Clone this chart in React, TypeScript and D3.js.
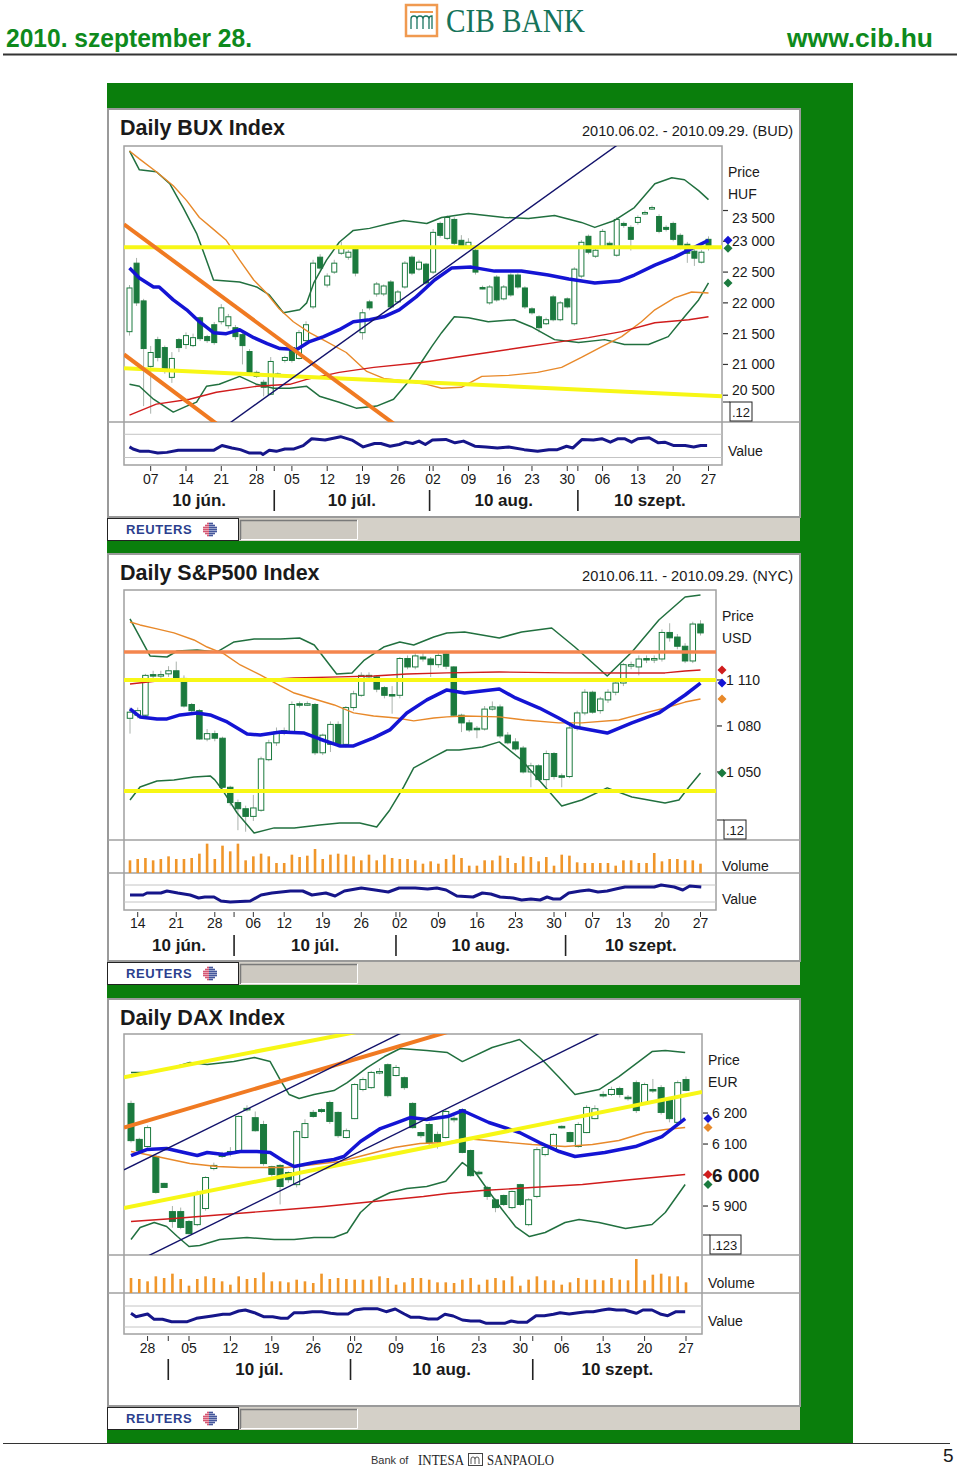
import React, { useEffect, useRef } from "react";
import * as d3 from "d3";

type Pt = [number, number];
type Candle = [number, number, number, number]; // open, high, low, close

// ---------- BUX (HUF) ----------
const buxCandles: Candle[] = [
  [21532, 22290, 21468, 22242], [22645, 22730, 21950, 22000], [22032, 22065, 20323, 21258], [20968, 21300, 20200, 21194],
  [21403, 21450, 21050, 21113], [21274, 21306, 20850, 20919], [20790, 21200, 20700, 21097], [21403, 21430, 21200, 21274],
  [21323, 21520, 21250, 21468], [21306, 21500, 21280, 21435], [21758, 21780, 21380, 21419], [21452, 21480, 21350, 21387],
  [21645, 21690, 21320, 21355], [21694, 21980, 21650, 21919], [21629, 21820, 21580, 21774], [21597, 21640, 21400, 21452],
  [21484, 21520, 21000, 21306], [21210, 21250, 20830, 20871], [20871, 20900, 20780, 20806], [20710, 20750, 20480, 20629],
  [20516, 21120, 20500, 21048], [20845, 20870, 20810, 20839], [21065, 21140, 21030, 21113], [21274, 21300, 21030, 21065],
  [21097, 21560, 21080, 21516], [21387, 21700, 21350, 21645], [21935, 22700, 21900, 22645], [22742, 22790, 22530, 22565],
  [22290, 22480, 22250, 22435], [22500, 22700, 22470, 22645], [22806, 22990, 22780, 22887], [22742, 22860, 22700, 22823],
  [22871, 22900, 22430, 22484], [21516, 21900, 21403, 21839], [22016, 22050, 21880, 21919], [22145, 22340, 22100, 22306],
  [22145, 22300, 22110, 22274], [22339, 22370, 21900, 21935], [22016, 22210, 21990, 22177], [22258, 22680, 22230, 22645],
  [22742, 22770, 22450, 22484], [22548, 22700, 22520, 22661], [22629, 22650, 22290, 22323], [22500, 23200, 22470, 23145],
  [23290, 23320, 23060, 23097], [23048, 23420, 23020, 23387], [23355, 23390, 22940, 22968], [23016, 23100, 22880, 22903],
  [22919, 23050, 22890, 22984], [22855, 22880, 22460, 22500], [22250, 22280, 22220, 22242], [22000, 22290, 21970, 22258],
  [22419, 22450, 22020, 22048], [22065, 22290, 22040, 22258], [22452, 22480, 22100, 22129], [22452, 22480, 22230, 22258],
  [22242, 22270, 21900, 21935], [21903, 21930, 21810, 21839], [21774, 21800, 21520, 21597], [21661, 21760, 21640, 21726],
  [22097, 22130, 21700, 21726], [21726, 22030, 21700, 22000], [22065, 22090, 21910, 21935], [21661, 22580, 21630, 22548],
  [22435, 23020, 22400, 22984], [23081, 23110, 22790, 22823], [22758, 22890, 22730, 22855], [22919, 23200, 22890, 23161],
  [22968, 23000, 22900, 22935], [22774, 23390, 22750, 23355], [23290, 23320, 23220, 23258], [23226, 23260, 22850, 23032],
  [23307, 23420, 23270, 23387], [23452, 23500, 23430, 23468], [23532, 23580, 23510, 23548], [23403, 23440, 23130, 23161],
  [23226, 23260, 23160, 23194], [23290, 23320, 23000, 23032], [23097, 23130, 22870, 22903], [22952, 22990, 22650, 22806],
  [22839, 22870, 22600, 22726], [22661, 22860, 22640, 22823], [23032, 23080, 22850, 22887],
];
const buxUpperBand: Pt[] = [
  [0, 24468], [1.4, 24161], [3.8, 24129], [5.7, 23936], [7.6, 23548], [9.5, 23129], [10.9, 22694], [11.9, 22371],
  [15.6, 22339], [18, 22258], [19.8, 22129], [21.8, 21839], [24.1, 21887], [25.1, 22000], [26.1, 22323], [27.9, 22694],
  [29.7, 22984], [31.7, 23177], [34, 23210], [36.8, 23290], [38.8, 23339], [42.1, 23290], [44.2, 23387], [48, 23452],
  [53.1, 23387], [56.5, 23371], [60.2, 23419], [64, 23307], [65.9, 23226], [68.7, 23339], [71.5, 23548], [74.4, 23936],
  [76.8, 24032], [78.6, 24000], [80.6, 23823], [82, 23677],
];
const buxLowerBand: Pt[] = [
  [0, 20677], [1.4, 20645], [3.4, 20435], [6.2, 20226], [8.1, 20323], [9.5, 20387], [10.9, 20645], [12.7, 20677],
  [15.6, 20806], [18, 20677], [20.4, 20613], [22.7, 20613], [25.1, 20645], [26.9, 20484], [29.7, 20387], [32.1, 20290],
  [35, 20323], [37.4, 20435], [39.2, 20677], [41.4, 21048], [42.8, 21290], [44.2, 21516], [46, 21774], [48, 21758],
  [50.8, 21694], [54.5, 21726], [56.9, 21613], [60.2, 21403], [63.6, 21355], [67.3, 21403], [70.1, 21323], [73.5, 21323],
  [76.3, 21452], [78.6, 21774], [80.6, 22048], [82, 22323],
];
const buxMaShort: Pt[] = [
  [0, 22565], [1.4, 22403], [3.4, 22258], [4.2, 22258], [6.2, 22048], [8.1, 21887], [9.9, 21694], [11.9, 21516],
  [13.7, 21500], [15.6, 21565], [17.6, 21435], [19.5, 21339], [21.3, 21258], [23.7, 21242], [25.5, 21371], [27.5, 21452],
  [29.7, 21565], [31.7, 21694], [34, 21726], [36, 21774], [38.2, 21887], [40.6, 22097], [43.2, 22371], [45.6, 22565],
  [48.4, 22581], [51.7, 22516], [55.5, 22516], [59.3, 22452], [62.2, 22387], [65.9, 22323], [69.3, 22355], [71.5, 22452],
  [74.4, 22613], [77.2, 22742], [80, 22903], [82, 23016],
];
const buxMaMid: Pt[] = [
  [0, 24468], [1.4, 24339], [3.8, 24129], [6.2, 23903], [8.1, 23661], [9.9, 23387], [11.9, 23194], [13.7, 23016],
  [15.6, 22694], [17.6, 22371], [19.4, 22161], [21.2, 21903], [23.2, 21694], [25.5, 21516], [27.9, 21371], [30.7, 21194],
  [33.6, 20887], [36, 20774], [39.2, 20726], [42.1, 20677], [44.2, 20613], [47, 20629], [49.9, 20806], [53.7, 20823],
  [57.8, 20871], [61.2, 20952], [64, 21113], [66.9, 21290], [69.7, 21452], [72.5, 21694], [74.4, 21887], [77.2, 22081],
  [79.6, 22177], [82, 22161],
];
const buxMaLong: Pt[] = [
  [0, 20177], [3.8, 20355], [8.5, 20435], [12.3, 20548], [18, 20645], [22.7, 20677], [25.1, 20758], [29.7, 20871],
  [34.6, 20952], [41.4, 21032], [46, 21113], [50.8, 21194], [55.5, 21274], [60.2, 21355], [65, 21435], [69.7, 21532],
  [74.4, 21677], [79.2, 21726], [82, 21774],
];
const buxValue: Pt[] = [
  [0, 53], [0.5, 47], [1.5, 40], [2.8, 40], [4, 35], [5.3, 37], [6.9, 43], [8.8, 43], [10.3, 43], [11.9, 43], [13.1, 57],
  [14.5, 50], [15.7, 45], [17, 35], [18.6, 35], [18.9, 31], [19.8, 43], [20.8, 40], [22, 47], [23.3, 47], [24.6, 57],
  [25.8, 77], [27.7, 73], [29.9, 83], [31.5, 73], [33.1, 53], [34.7, 63], [35.6, 63], [36.9, 55], [38.2, 60], [39.1, 67],
  [40.1, 63], [41, 70], [41.9, 60], [42.9, 73], [44.8, 75], [46.1, 65], [47.3, 70], [48.9, 55], [50.5, 53], [52.1, 50],
  [53.7, 53], [55.9, 45], [57.8, 40], [59.4, 45], [60.6, 45], [61.9, 55], [62.8, 50], [64.1, 75], [65.7, 73], [66.9, 77],
  [68.1, 67], [69.2, 77], [70.1, 77], [71.1, 67], [72, 77], [73.6, 80], [74.9, 65], [75.8, 67], [77.1, 57], [78.7, 57],
  [79.9, 53], [80.9, 57], [81.8, 57],
];
const buxTicks = [20500, 21000, 21500, 22000, 22500, 23000, 23500];
const buxLevel = 22903;
const buxTrendYellow: Pt[] = [[0, 20932], [82, 20495]];
const buxTrendOrangeA: Pt[] = [[0, 23210], [37, 20074]];
const buxTrendOrangeB: Pt[] = [[0, 21096], [12, 20065]];
const buxTrendNavy: Pt[] = [[14.4, 20065], [68.7, 24532]];

// ---------- S&P500 (USD) ----------
const spxCandles: Candle[] = [
  [1085, 1092, 1075, 1089], [1087, 1092, 1085, 1090], [1087, 1114, 1086, 1113], [1113.5, 1116, 1110, 1113],
  [1113, 1116, 1111, 1113.5], [1114, 1119, 1112, 1116], [1116, 1122, 1110, 1111], [1111, 1113, 1092, 1093],
  [1094, 1095, 1088, 1090], [1090, 1091, 1071, 1071.5], [1071.5, 1078, 1070, 1075], [1075, 1077, 1070, 1072],
  [1072, 1073, 1039, 1040], [1040, 1041, 1028, 1030], [1030, 1032, 1012, 1026], [1026, 1028, 1011, 1021],
  [1021, 1035, 1018, 1026.5], [1025, 1060, 1024, 1058.5], [1058, 1071, 1057, 1069], [1069, 1079, 1067, 1076],
  [1077, 1079, 1074, 1075.5], [1076, 1096, 1075, 1094], [1094.5, 1096, 1092, 1094], [1094, 1096, 1093, 1094.5],
  [1094, 1095, 1061, 1062.5], [1062.5, 1075, 1061, 1074], [1068, 1083, 1063, 1081], [1081, 1083, 1066, 1068],
  [1068, 1093, 1066, 1092], [1092, 1103, 1090, 1101], [1100, 1115, 1099, 1113], [1112.5, 1115, 1110, 1113],
  [1112, 1113, 1102, 1104], [1105, 1106, 1098, 1100], [1100.5, 1106, 1088, 1100], [1100, 1125, 1098, 1124],
  [1124, 1126, 1117, 1118.5], [1118.5, 1128, 1117, 1125.7], [1125, 1128, 1122, 1123.7], [1123.7, 1125, 1112, 1120],
  [1120, 1129, 1118, 1126], [1127, 1128, 1117, 1119], [1118.5, 1119, 1086, 1087], [1087, 1088, 1076, 1082],
  [1082, 1084, 1076, 1077.4], [1078.5, 1080, 1072, 1078], [1078, 1093, 1077, 1091], [1091, 1096, 1090, 1092.4],
  [1092.4, 1094, 1072, 1073.5], [1074, 1076, 1068, 1069], [1069.6, 1072, 1064, 1065], [1065.6, 1067, 1049, 1050],
  [1050, 1056, 1040, 1054], [1054, 1055, 1044, 1045], [1045, 1064, 1040, 1062], [1062, 1063, 1045, 1047],
  [1047.5, 1049, 1040, 1047], [1047, 1080, 1046, 1078.7], [1078.7, 1090, 1077, 1088.5], [1088.5, 1104, 1087, 1102],
  [1102, 1103, 1088, 1089], [1090, 1099, 1088, 1097.6], [1097, 1104, 1095, 1102], [1102, 1110, 1100, 1108],
  [1108, 1121, 1106, 1120], [1119.5, 1122, 1117, 1120], [1118.5, 1126, 1113, 1123.7], [1124, 1126, 1121, 1123.5],
  [1123.5, 1126, 1121, 1124], [1123.7, 1143, 1122, 1141], [1141, 1147, 1135, 1137.5], [1138, 1140, 1130, 1132],
  [1132, 1134, 1121, 1122.4], [1122.4, 1148, 1121, 1146.5], [1146.5, 1149, 1139, 1140.7],
];
const spxUpperBand: Pt[] = [
  [0, 1149.8], [2.6, 1125.7], [4.8, 1125], [6.1, 1128.9], [8.7, 1129.6], [11.3, 1128.3], [13.5, 1134.8], [16.1, 1136.7],
  [19.5, 1136.7], [22, 1137.4], [23.9, 1132.8], [26.8, 1113.9], [28.8, 1114.6], [30.4, 1123], [32.9, 1131.5], [35, 1134.8],
  [36.8, 1132.8], [39.4, 1138], [41.1, 1140.7], [43.4, 1141.3], [47.9, 1137.4], [50.8, 1141.3], [54.7, 1143.9],
  [57.7, 1131.5], [61.9, 1112.6], [65.1, 1128.3], [68.6, 1149.1], [72, 1164.1], [74, 1165.4],
];
const spxLowerBand: Pt[] = [
  [0, 1031.7], [1.3, 1040.2], [3.5, 1044.1], [5.7, 1044.8], [8.3, 1046.7], [10.4, 1047.4], [11, 1044.8], [12, 1038.2],
  [13.9, 1023.2], [16.1, 1010.2], [18.7, 1013.5], [21.3, 1013.5], [24.6, 1015.4], [27.2, 1016.7], [29.8, 1016.7],
  [32, 1014.1], [33.7, 1025.2], [35.5, 1040.2], [36.8, 1052.6], [39.4, 1059.8], [41.1, 1064.3], [42.7, 1064.3],
  [45.7, 1066.3], [47.9, 1069.6], [50.8, 1057.8], [53.4, 1042.8], [56, 1027.8], [58.6, 1031.7], [61.9, 1039.6],
  [65.1, 1033.7], [69.4, 1029.8], [71.2, 1031.7], [72.5, 1040.2], [74, 1049.3],
];
const spxMaShort: Pt[] = [
  [0, 1091.1], [1.3, 1085.9], [3.5, 1084.6], [4.8, 1084.6], [6.5, 1087.2], [8.7, 1088.5], [10.4, 1087.2], [12.6, 1082.6],
  [15.2, 1074.8], [16.9, 1074.1], [19.5, 1076.1], [22.6, 1075.4], [24.6, 1071.5], [27.2, 1067], [29, 1067], [31.6, 1072.2],
  [33.7, 1077.4], [35.9, 1088.5], [38.5, 1097], [41.1, 1103.5], [43.4, 1101.5], [47.9, 1104.1], [50, 1098.3],
  [53.1, 1091.7], [55.6, 1085.2], [57.7, 1079.3], [61.9, 1075.4], [65.1, 1082], [68.6, 1088.5], [72, 1100.2], [74, 1108],
];
const spxMaMid: Pt[] = [
  [0, 1147.8], [1.3, 1145.9], [3.5, 1143.3], [5.7, 1140.7], [8.3, 1136.1], [10, 1131.5], [12.2, 1127], [14.3, 1119.8],
  [16.9, 1113.3], [19.5, 1106.1], [21.3, 1101.5], [23.9, 1097.6], [26.5, 1093.7], [29, 1088.5], [31.6, 1086.5],
  [34.6, 1085.2], [36.8, 1083.3], [39.4, 1085.2], [41.1, 1085.9], [43.4, 1086.5], [47.9, 1085.9], [51.2, 1083.9],
  [55.6, 1082], [58.6, 1082], [63.4, 1083.9], [66.8, 1088.5], [69.4, 1091.7], [72, 1095.6], [74, 1097.6],
];
const spxMaLong: Pt[] = [
  [0, 1107.4], [3.5, 1109.3], [7, 1110.7], [10.9, 1110.7], [16.5, 1110], [21.3, 1111.3], [27.2, 1112], [31.6, 1112.6],
  [35.9, 1113.9], [41.1, 1114.6], [47.9, 1115.2], [56.4, 1114.6], [65.1, 1114.6], [69.4, 1114.6], [72, 1115.9], [74, 1116.5],
];
const spxVolume = [
  3.8, 4.2, 4.5, 3.8, 4.2, 5.0, 4.2, 4.2, 4.5, 5.8, 8.8, 4.2, 8.2, 6.5, 8.8, 3.8, 5.0, 5.8, 5.0, 3.0,
  3.0, 5.5, 4.8, 5.2, 7.2, 4.2, 5.5, 5.8, 5.5, 5.0, 3.8, 5.5, 3.8, 5.5, 4.5, 4.2, 4.2, 3.8, 2.8, 3.5,
  2.8, 4.2, 5.5, 4.5, 2.2, 2.2, 3.8, 3.8, 5.2, 4.5, 3.0, 5.0, 4.8, 3.5, 4.8, 2.2, 5.5, 5.2, 3.2, 3.0,
  3.0, 3.0, 3.0, 2.2, 3.8, 3.8, 3.0, 3.0, 6.0, 3.5, 4.2, 4.2, 3.8, 3.8, 2.8,
];
const spxValue: Pt[] = [
  [0, 17], [1.7, 17], [2.2, 19], [4, 19], [4.8, 21], [6.2, 19], [7.8, 17], [8.9, 14], [9.7, 15], [10.9, 15], [11.8, 11],
  [13, 10], [15.6, 11], [17, 17], [18.4, 19], [20.8, 21], [22.4, 21], [23.6, 17], [25.4, 19], [26.6, 16], [27.8, 21],
  [30, 24], [31.8, 22], [33.5, 20], [34.9, 24], [37, 24], [38.6, 23], [39.8, 24], [41, 22], [42.4, 16], [44.5, 15],
  [45.7, 19], [46.8, 18], [48, 15], [49.7, 14], [50.8, 12], [52, 13], [53.2, 12], [54.1, 15], [54.9, 13], [55.8, 13],
  [56.9, 19], [58.4, 21], [59.5, 22], [60.7, 20], [61.9, 21], [63, 23], [64.2, 25], [65.4, 25], [66.5, 25], [68, 25],
  [68.9, 27], [70.6, 25], [71.7, 22], [72.6, 26], [74.1, 25],
];
const spxTicks = [1050, 1080, 1110];
const spxLevelOrange = 1128.3;
const spxLevelsYellow = [1110, 1037.6];

// ---------- DAX (EUR) ----------
const daxCandles: Candle[] = [
  [6231, 6240, 6105, 6111], [6115, 6120, 6075, 6079], [6092, 6160, 6088, 6153], [6060, 6065, 5940, 5944],
  [5973, 5975, 5958, 5960], [5882, 5900, 5830, 5850], [5882, 5895, 5825, 5831], [5850, 5855, 5808, 5811],
  [5840, 5950, 5835, 5940], [5892, 5996, 5885, 5992], [6021, 6040, 6015, 6031], [6069, 6075, 6055, 6060],
  [6076, 6090, 6060, 6075], [6079, 6192, 6076, 6189], [6214, 6225, 6205, 6215], [6185, 6205, 6140, 6143],
  [6163, 6175, 6030, 6037], [6027, 6030, 5995, 6002], [6031, 6035, 5905, 5963], [6008, 6012, 5975, 5985],
  [5969, 6145, 5960, 6140], [6121, 6180, 6118, 6166], [6202, 6210, 6185, 6189], [6211, 6215, 6200, 6205],
  [6234, 6240, 6165, 6173], [6202, 6205, 6120, 6127], [6121, 6150, 6118, 6143], [6182, 6296, 6180, 6292],
  [6276, 6315, 6270, 6308], [6282, 6336, 6278, 6331], [6333, 6345, 6325, 6334], [6356, 6360, 6250, 6256],
  [6321, 6355, 6318, 6347], [6314, 6318, 6275, 6282], [6231, 6235, 6150, 6153], [6137, 6140, 6120, 6127],
  [6163, 6170, 6095, 6105], [6131, 6140, 6085, 6108], [6121, 6210, 6118, 6205], [6183, 6190, 6170, 6182],
  [6211, 6215, 6070, 6073], [6079, 6082, 5995, 5998], [6009, 6015, 6000, 6008], [5960, 5965, 5920, 5931],
  [5920, 5925, 5880, 5895], [5934, 5937, 5900, 5905], [5895, 5950, 5890, 5947], [5969, 5972, 5900, 5905],
  [5840, 5925, 5835, 5920], [5931, 6090, 5925, 6082], [6066, 6100, 6060, 6089], [6085, 6135, 6082, 6131],
  [6157, 6160, 6150, 6156], [6137, 6140, 6105, 6108], [6092, 6170, 6088, 6163], [6137, 6225, 6135, 6218],
  [6182, 6225, 6180, 6214], [6260, 6270, 6250, 6259], [6260, 6285, 6255, 6276], [6279, 6285, 6250, 6260],
  [6251, 6258, 6240, 6250], [6298, 6305, 6200, 6208], [6234, 6298, 6230, 6292], [6276, 6310, 6265, 6275],
  [6282, 6290, 6195, 6202], [6243, 6250, 6170, 6182], [6170, 6305, 6165, 6298], [6308, 6318, 6270, 6273],
];
const daxUpperBand: Pt[] = [
  [0, 6330.6], [1.9, 6330.6], [4.3, 6340.3], [7.1, 6362.9], [9.2, 6356.5], [12.4, 6366.1], [14.9, 6379], [16.8, 6366.1],
  [18, 6308.1], [19.1, 6259.7], [20.3, 6246.8], [22.1, 6259.7], [24.5, 6272.6], [26.1, 6298.4], [28.5, 6346.8],
  [30.6, 6382.3], [32.5, 6408.1], [35.7, 6401.6], [38.2, 6395.2], [40, 6366.1], [43.6, 6411.3], [46.9, 6437.1],
  [49.6, 6372.6], [51.7, 6314.5], [53.6, 6259.7], [56.5, 6275.8], [58.9, 6317.7], [62.9, 6398.4], [64.5, 6401.6],
  [66.9, 6395.2],
];
const daxLowerBand: Pt[] = [
  [0, 5791.9], [1.1, 5830.6], [2.8, 5846.8], [4.3, 5833.9], [5.6, 5801.6], [7, 5769.4], [8.3, 5772.6], [10.7, 5791.9],
  [14, 5798.4], [17.3, 5791.9], [19.7, 5791.9], [22.1, 5798.4], [24.5, 5798.4], [26.1, 5814.5], [27.7, 5879],
  [29.3, 5917.7], [31.3, 5943.5], [33.3, 5956.5], [35.7, 5962.9], [38, 5980], [40, 6040.3], [41.5, 6011.3],
  [43.2, 5946.8], [44.8, 5888.7], [46.4, 5833.9], [48.1, 5801.6], [50, 5814.5], [52.4, 5846.8], [54.1, 5856.5],
  [56.5, 5846.8], [59.7, 5827.4], [62.9, 5840.3], [64.5, 5879], [66.9, 5969.4],
];
const daxMaShort: Pt[] = [
  [0, 6062.9], [1.9, 6082.3], [4.3, 6085.5], [6.4, 6072.6], [8, 6062.9], [9.2, 6072.6], [11.2, 6066.1], [13.2, 6075.8],
  [15.2, 6075.8], [16.8, 6072.6], [18.5, 6043.5], [19.7, 6027.4], [22.1, 6040.3], [24.5, 6050], [25.7, 6059.7],
  [27.7, 6108.1], [30.1, 6150], [32.1, 6169.4], [33.7, 6185.5], [35.7, 6179], [38.2, 6188.7], [40, 6208.1],
  [43.2, 6169.4], [46.9, 6137.1], [49.3, 6104.8], [51.7, 6075.8], [53.6, 6059.7], [57.2, 6072.6], [60.9, 6091.9],
  [64.1, 6124.2], [66.9, 6182.3],
];
const daxMaMid: Pt[] = [
  [0, 6075.8], [3.1, 6059.7], [7.1, 6037.1], [10.4, 6027.4], [13.2, 6024.2], [16.1, 6024.2], [18.8, 6024.2],
  [22.1, 6033.9], [25.2, 6043.5], [28.5, 6066.1], [31.8, 6088.7], [34.9, 6101.6], [38.2, 6104.8], [40.3, 6117.7],
  [44.4, 6108.1], [48.4, 6098.4], [52.4, 6091.9], [55.7, 6098.4], [58.9, 6111.3], [62.1, 6137.1], [64.5, 6146.8],
  [66.9, 6153.2],
];
const daxMaLong: Pt[] = [
  [0, 5850], [5.2, 5859.7], [11.2, 5872.6], [17.3, 5885.5], [23.3, 5898.4], [29.3, 5914.5], [35.3, 5930.6],
  [38.2, 5940.3], [42.4, 5950], [48.4, 5959.7], [54.5, 5969.4], [60.5, 5985.5], [66.9, 6001.6],
];
const daxVolume = [
  4.5, 4.2, 3.5, 5.0, 4.5, 5.8, 4.2, 2.2, 4.2, 5.0, 4.5, 3.5, 2.5, 5.0, 4.2, 4.5, 6.2, 3.5, 3.5, 3.2,
  4.0, 3.5, 3.0, 5.8, 4.2, 4.5, 4.2, 4.0, 4.0, 4.0, 5.0, 4.5, 2.5, 3.2, 4.5, 4.5, 4.0, 3.2, 3.2, 3.0,
  4.0, 4.5, 2.5, 4.0, 4.5, 3.8, 5.0, 2.2, 4.0, 5.0, 3.8, 3.8, 2.5, 3.2, 4.5, 4.0, 4.0, 3.8, 4.5, 4.0,
  3.8, 10.2, 3.8, 5.5, 5.8, 5.0, 5.0, 3.2,
];
const daxValue: Pt[] = [
  [0, 20.7], [0.6, 17.3], [2, 20], [2.8, 14.7], [3.8, 14.7], [4.9, 12.3], [6.8, 12.3], [7.9, 15.7], [9.8, 18],
  [11.1, 19.7], [11.9, 19.7], [13, 23], [13.8, 24], [14.9, 21.3], [16, 17.3], [17.1, 17.3], [18.1, 15.7], [18.9, 15.7],
  [19.7, 21.3], [20.8, 21.3], [21.9, 22.3], [23, 22.3], [24.1, 20.7], [24.9, 20], [26.2, 20], [27, 24], [28.1, 25.3],
  [29.7, 25.3], [30.8, 22.3], [31.9, 25], [33, 20], [33.8, 16.7], [34.8, 16.7], [35.9, 15], [37, 15], [37.9, 19.7],
  [38.9, 18], [40, 14], [41, 13], [42.1, 13], [42.9, 10.7], [44, 10.7], [45.1, 10.7], [45.9, 13], [46.7, 11.7],
  [47.8, 11.7], [48.9, 18.3], [49.9, 18.3], [51, 19.7], [51.8, 21.3], [52.9, 20], [54, 21.3], [55, 22.3], [55.8, 22.3],
  [56.9, 24], [57.7, 25], [58.6, 24], [59.6, 24], [61, 20.7], [61.8, 24], [62.9, 24], [64, 19.7], [64.8, 18.3],
  [65.8, 22.3], [66.9, 22.3],
];
const daxTicks = [5900, 6000, 6100, 6200];
const daxTrendYellowTop: Pt[] = [[0, 6320], [25, 6450]];
const daxTrendYellowLow: Pt[] = [[0, 5898], [69, 6268]];
const daxTrendOrange: Pt[] = [[0, 6160], [37, 6452]];
const daxTrendNavyUpper: Pt[] = [[0, 6028], [32, 6450]];
const daxTrendNavyLower: Pt[] = [[2.9, 5750], [56, 6450]];

// ---------- styles ----------
const FONT = "'Liberation Sans', Arial, Helvetica, sans-serif";
const GREEN_BG = "#0a7e0c";
const HEAD_GREEN = "#0e8a1c";
const CANDLE = "#1b7a3e";
const WICK = "#aab2ac";
const BAND = "#21703f";
const BLUE = "#1414d4";
const ORANGE = "#e8892a";
const RED = "#d01c1c";
const YELLOW = "#f7f716";
const TREND_ORANGE = "#f07a22";
const SALMON = "#f4864e";
const NAVY = "#12126b";
const VALUE_NAVY = "#16168a";
const VOL = "#f0962a";
const FRAME = "#a0a0a0";
const TEXT = "#1a1a1a";

const HU_MONTHS = ["jan.", "febr.", "márc.", "ápr.", "máj.", "jún.", "júl.", "aug.", "szept.", "okt.", "nov.", "dec."];
const parseDay = d3.timeParse("%Y-%m-%d");
const isoDay = d3.timeFormat("%Y-%m-%d");
const dayLabel = d3.timeFormat("%d");
const yearLabel = d3.timeFormat("%y");
const priceFmt = d3.formatLocale({ decimal: ",", thousands: " ", grouping: [3], currency: ["", ""] }).format(",d");
const last = (a: any[]) => a[a.length - 1];

function tradingDays(start: string, count: number, holidays: string[]) {
  const out: Date[] = [];
  let d = parseDay(start) as Date;
  while (out.length < count) {
    const wd = d.getDay();
    if (wd > 0 && wd < 6 && !holidays.includes(isoDay(d))) out.push(d);
    d = d3.timeDay.offset(d, 1);
  }
  return out;
}

const panels = [
  {
    key: "bux", title: "Daily BUX Index", range: "2010.06.02. - 2010.09.29. (BUD)", currency: "HUF",
    start: "2010-06-02", holidays: ["2010-08-20"],
    candles: buxCandles, upper: buxUpperBand, lower: buxLowerBand,
    maShort: buxMaShort, maMid: buxMaMid, maLong: buxMaLong, value: buxValue, volume: null,
    levels: [[buxLevel, YELLOW, 4]],
    trends: [[buxTrendYellow, YELLOW, 4], [buxTrendOrangeA, TREND_ORANGE, 4], [buxTrendOrangeB, TREND_ORANGE, 4], [buxTrendNavy, NAVY, 1.4]],
    ticks: buxTicks, boldTick: null, tickShift: { 23500: 7, 20500: -5 },
    markers: [[BLUE, last(buxMaShort)[1]], [CANDLE, last(buxCandles)[3]], [CANDLE, last(buxLowerBand)[1]]],
    box: ".12", boxW: 22,
    top: 109, bottom: 517, plotLeft: 124, plotRight: 722, priceTop: 146, priceBottom: 422,
    volBottom: null, valueBottom: 465, firstX: 129.5, lastX: 708.5, bodyW: 5,
    priceDomain: [20065, 24548], volumeDomain: null, valueDomain: [0, 126], valueGrid: [22, 90],
    tickY: 466, labelY: 484, monthY: 506,
  },
  {
    key: "spx", title: "Daily S&P500 Index", range: "2010.06.11. - 2010.09.29. (NYC)", currency: "USD",
    start: "2010-06-11", holidays: ["2010-07-05", "2010-09-06"],
    candles: spxCandles, upper: spxUpperBand, lower: spxLowerBand,
    maShort: spxMaShort, maMid: spxMaMid, maLong: spxMaLong, value: spxValue, volume: spxVolume,
    levels: [[spxLevelOrange, SALMON, 3.5], [spxLevelsYellow[0], YELLOW, 4], [spxLevelsYellow[1], YELLOW, 4]],
    trends: [],
    ticks: spxTicks, boldTick: null, tickShift: {},
    markers: [[RED, last(spxMaLong)[1]], [BLUE, last(spxMaShort)[1]], [ORANGE, last(spxMaMid)[1]], [CANDLE, last(spxLowerBand)[1]]],
    box: ".12", boxW: 22,
    top: 554, bottom: 961, plotLeft: 124, plotRight: 716, priceTop: 590, priceBottom: 840,
    volBottom: 873, valueBottom: 910, firstX: 130, lastX: 700.5, bodyW: 5.5,
    priceDomain: [1005.6, 1168.7], volumeDomain: [0, 9.9], valueDomain: [2, 39], valueGrid: [10, 27],
    tickY: 912, labelY: 928, monthY: 951,
  },
  {
    key: "dax", title: "Daily DAX Index", range: null, currency: "EUR",
    start: "2010-06-24", holidays: [],
    candles: daxCandles, upper: daxUpperBand, lower: daxLowerBand,
    maShort: daxMaShort, maMid: daxMaMid, maLong: daxMaLong, value: daxValue, volume: daxVolume,
    levels: [],
    trends: [[daxTrendYellowTop, YELLOW, 4], [daxTrendYellowLow, YELLOW, 4], [daxTrendOrange, TREND_ORANGE, 4],
      [daxTrendNavyUpper, NAVY, 1.4], [daxTrendNavyLower, NAVY, 1.4]],
    ticks: daxTicks, boldTick: 6000, tickShift: {},
    markers: [[BLUE, last(daxMaShort)[1]], [ORANGE, last(daxMaMid)[1]], [RED, last(daxMaLong)[1]], [CANDLE, last(daxLowerBand)[1]]],
    box: ".123", boxW: 31,
    top: 999, bottom: 1406, plotLeft: 124, plotRight: 702, priceTop: 1034, priceBottom: 1255,
    volBottom: 1293, valueBottom: 1334, firstX: 131, lastX: 686, bodyW: 6,
    priceDomain: [5742, 6455], volumeDomain: [0, 11.4], valueDomain: [0, 41], valueGrid: [7, 28],
    tickY: 1336, labelY: 1353, monthY: 1375,
  },
];

function drawPage(svg: any) {
  // header
  svg.append("text").attr("x", 6).attr("y", 47).attr("font-size", 26).attr("font-weight", "bold")
    .attr("fill", HEAD_GREEN).attr("textLength", 246).attr("lengthAdjust", "spacingAndGlyphs").text("2010. szeptember 28.");
  svg.append("text").attr("x", 787).attr("y", 47).attr("font-size", 26).attr("font-weight", "bold")
    .attr("fill", HEAD_GREEN).attr("textLength", 146).attr("lengthAdjust", "spacingAndGlyphs").text("www.cib.hu");

  // CIB logo
  const logo = svg.append("g");
  logo.append("rect").attr("x", 406).attr("y", 5).attr("width", 31).attr("height", 31)
    .attr("fill", "#fff").attr("stroke", "#f09a50").attr("stroke-width", 2.5);
  logo.append("line").attr("x1", 410).attr("x2", 433).attr("y1", 12).attr("y2", 12).attr("stroke", "#f09a50").attr("stroke-width", 2);
  logo.append("path").attr("d", "M411,29 V19 Q411,16 414,16 Q417,16 417,19 V29 M417,19 Q417,16 420,16 Q423,16 423,19 V29 M423,19 Q423,16 426,16 Q429,16 429,19 V29 M429,19 Q429,16 432,16 V29")
    .attr("fill", "none").attr("stroke", "#1b7560").attr("stroke-width", 1.3);
  svg.append("text").attr("x", 446).attr("y", 32).attr("font-family", "'Liberation Serif', 'Times New Roman', serif")
    .attr("font-size", 33).attr("fill", "#16735a").attr("textLength", 139).attr("lengthAdjust", "spacingAndGlyphs").text("CIB BANK");

  svg.append("line").attr("x1", 3).attr("x2", 957).attr("y1", 54.5).attr("y2", 54.5).attr("stroke", "#333").attr("stroke-width", 2);
  svg.append("line").attr("x1", 3).attr("x2", 950).attr("y1", 1443.5).attr("y2", 1443.5).attr("stroke", "#333").attr("stroke-width", 1.2);

  // green background
  svg.append("rect").attr("x", 107).attr("y", 83).attr("width", 746).attr("height", 1360).attr("fill", GREEN_BG);

  // footer
  svg.append("text").attr("x", 943).attr("y", 1462).attr("font-size", 19).attr("fill", TEXT).text("5");
  svg.append("text").attr("x", 371).attr("y", 1464).attr("font-size", 11).attr("fill", "#333").text("Bank of");
  svg.append("text").attr("x", 418).attr("y", 1465).attr("font-family", "'Liberation Serif', serif").attr("font-size", 15)
    .attr("fill", "#222").attr("textLength", 46).attr("lengthAdjust", "spacingAndGlyphs").text("INTESA");
  svg.append("rect").attr("x", 468.5).attr("y", 1453.5).attr("width", 14).attr("height", 12).attr("fill", "none").attr("stroke", "#444");
  svg.append("path").attr("d", "M471,1464 V1459 Q471,1457 473,1457 Q475,1457 475,1459 V1464 M475,1459 Q475,1457 477,1457 Q479,1457 479,1459 V1464")
    .attr("fill", "none").attr("stroke", "#444").attr("stroke-width", 0.9);
  svg.append("text").attr("x", 487).attr("y", 1465).attr("font-family", "'Liberation Serif', serif").attr("font-size", 15)
    .attr("fill", "#222").attr("textLength", 67).attr("lengthAdjust", "spacingAndGlyphs").text("SANPAOLO");
}

function drawPanel(svg: any, p: any) {
  const n = p.candles.length;
  const days = tradingDays(p.start, n, p.holidays);
  const g = svg.append("g");

  // Scales
  const x = d3.scaleLinear().domain([0, n - 1]).range([p.firstX, p.lastX]);
  const y = d3.scaleLinear().domain(p.priceDomain).range([p.priceBottom, p.priceTop]);
  const valTop = p.volBottom ?? p.priceBottom;
  const yVal = d3.scaleLinear().domain(p.valueDomain).range([p.valueBottom, valTop]);
  const ax = p.plotRight;

  // Panel
  g.append("rect").attr("x", 108).attr("y", p.top).attr("width", 692).attr("height", p.bottom - p.top)
    .attr("fill", "#fff").attr("stroke", "#9a9a9a").attr("stroke-width", 2);

  // Title
  g.append("text").attr("x", 120).attr("y", p.top + 26).attr("font-size", 21.5).attr("font-weight", "bold")
    .attr("fill", TEXT).text(p.title);
  if (p.range) {
    g.append("text").attr("x", 582).attr("y", p.top + 27).attr("font-size", 14)
      .attr("textLength", 211).attr("lengthAdjust", "spacingAndGlyphs").attr("fill", TEXT).text(p.range);
  }

  // Frames
  g.append("rect").attr("x", p.plotLeft).attr("y", p.priceTop).attr("width", p.plotRight - p.plotLeft)
    .attr("height", p.valueBottom - p.priceTop).attr("fill", "none").attr("stroke", FRAME).attr("stroke-width", 1.5);
  [p.priceBottom, p.volBottom].filter((v: any) => v != null).forEach((yy: number) => {
    g.append("line").attr("x1", 108).attr("x2", 800).attr("y1", yy).attr("y2", yy).attr("stroke", FRAME).attr("stroke-width", 1.5);
  });

  // Clip for the price area
  const clipId = `clip-${p.key}`;
  g.append("clipPath").attr("id", clipId).append("rect").attr("x", p.plotLeft).attr("y", p.priceTop)
    .attr("width", p.plotRight - p.plotLeft).attr("height", p.priceBottom - p.priceTop);
  const plot = g.append("g").attr("clip-path", `url(#${clipId})`);

  // Candles
  const candle = plot.selectAll("g.candle").data(p.candles).join("g").attr("class", "candle");
  candle.append("line")
    .attr("x1", (d: Candle, i: number) => x(i)).attr("x2", (d: Candle, i: number) => x(i))
    .attr("y1", (d: Candle) => y(d[1])).attr("y2", (d: Candle) => y(d[2]))
    .attr("stroke", WICK).attr("stroke-width", 1);
  candle.append("rect")
    .attr("x", (d: Candle, i: number) => x(i) - p.bodyW / 2)
    .attr("y", (d: Candle) => y(Math.max(d[0], d[3])))
    .attr("width", p.bodyW)
    .attr("height", (d: Candle) => Math.max(1.5, Math.abs(y(d[0]) - y(d[3]))))
    .attr("fill", (d: Candle) => (d[3] >= d[0] ? "#fff" : CANDLE))
    .attr("stroke", CANDLE).attr("stroke-width", 1);

  // Indicator lines
  const line = d3.line<Pt>().x(d => x(d[0])).y(d => y(d[1]));
  const drawLine = (data: Pt[], color: string, width: number) =>
    plot.append("path").datum(data).attr("d", line).attr("fill", "none").attr("stroke", color)
      .attr("stroke-width", width).attr("stroke-linejoin", "round");
  drawLine(p.upper, BAND, 1.5);
  drawLine(p.lower, BAND, 1.5);
  drawLine(p.maMid, ORANGE, 1.4);
  drawLine(p.maLong, RED, 1.4);
  drawLine(p.maShort, BLUE, 3.5);

  // Levels and trend lines, stretched over the whole price area
  const i0 = x.invert(p.plotLeft);
  const i1 = x.invert(p.plotRight);
  p.levels.forEach(([v, color, w]: any) => drawLine([[i0, v], [i1, v]], color, w));
  p.trends.forEach(([pts, color, w]: any) => {
    const [[a, pa], [b, pb]] = pts;
    const s = (pb - pa) / (b - a);
    drawLine([[i0, pa + s * (i0 - a)], [i1, pa + s * (i1 - a)]], color, w);
  });

  // Right axis
  g.append("text").attr("x", ax + 6).attr("y", p.priceTop + 31).attr("font-size", 14).attr("fill", TEXT).text("Price");
  g.append("text").attr("x", ax + 6).attr("y", p.priceTop + 53).attr("font-size", 14).attr("fill", TEXT).text(p.currency);
  p.ticks.forEach((t: number) => {
    const ty = y(t);
    const bold = t === p.boldTick;
    g.append("line").attr("x1", ax + 1).attr("x2", ax + 6).attr("y1", ty).attr("y2", ty).attr("stroke", "#333").attr("stroke-width", 1.2);
    g.append("text").attr("x", ax + 10).attr("y", ty + (bold ? 7 : 5) + (p.tickShift[t] || 0))
      .attr("font-size", bold ? 19 : 14).attr("font-weight", bold ? "bold" : "normal").attr("fill", TEXT).text(priceFmt(t));
  });
  p.markers.forEach(([color, v]: any) => {
    g.append("path").attr("d", "M0,-4.5L4.5,0L0,4.5L-4.5,0Z").attr("transform", `translate(${ax + 6},${y(v)})`).attr("fill", color);
  });
  const bx = ax + 8;
  const by = p.priceBottom - 20;
  g.append("line").attr("x1", ax + 1).attr("x2", bx).attr("y1", by).attr("y2", by).attr("stroke", "#222");
  g.append("rect").attr("x", bx).attr("y", by).attr("width", p.boxW).attr("height", 19).attr("fill", "#fff").attr("stroke", "#222");
  g.append("text").attr("x", bx + 2).attr("y", by + 15).attr("font-size", 13).attr("fill", TEXT).text(p.box);

  // Volume
  if (p.volume) {
    const yVol = d3.scaleLinear().domain(p.volumeDomain).range([p.volBottom, p.priceBottom]);
    g.selectAll("rect.vol").data(p.volume).join("rect").attr("class", "vol")
      .attr("x", (d: number, i: number) => x(i) - 1.3).attr("width", 2.6)
      .attr("y", (d: number) => yVol(d)).attr("height", (d: number) => p.volBottom - yVol(d))
      .attr("fill", VOL);
    g.append("text").attr("x", ax + 6).attr("y", (p.priceBottom + p.volBottom) / 2 + 14).attr("font-size", 14).attr("fill", TEXT).text("Volume");
  }

  // Value
  p.valueGrid.forEach((v: number) => {
    g.append("line").attr("x1", p.plotLeft).attr("x2", p.plotRight).attr("y1", yVal(v)).attr("y2", yVal(v)).attr("stroke", "#c4c4c4");
  });
  g.append("path").datum(p.value)
    .attr("d", d3.line<Pt>().x(d => x(d[0])).y(d => yVal(d[1])))
    .attr("fill", "none").attr("stroke", VALUE_NAVY).attr("stroke-width", 3).attr("stroke-linejoin", "round");
  g.append("text").attr("x", ax + 6).attr("y", (valTop + p.valueBottom) / 2 + 12).attr("font-size", 14).attr("fill", TEXT).text("Value");

  // x-axis: weeks
  days.forEach((d: Date, i: number) => {
    const newWeek = i === 0 ? d.getDay() === 1 : +d3.timeMonday.floor(d) !== +d3.timeMonday.floor(days[i - 1]);
    if (!newWeek) return;
    g.append("line").attr("x1", x(i)).attr("x2", x(i)).attr("y1", p.tickY).attr("y2", p.tickY + 5).attr("stroke", "#333");
    g.append("text").attr("x", x(i)).attr("y", p.labelY).attr("text-anchor", "middle").attr("font-size", 14)
      .attr("fill", TEXT).text(dayLabel(d));
  });

  // x-axis: months
  const edges = [p.plotLeft];
  const monthDays = [days[0]];
  days.forEach((d: Date, i: number) => {
    if (i > 0 && d.getMonth() !== days[i - 1].getMonth()) {
      const bxm = x(i - 0.5);
      edges.push(bxm);
      monthDays.push(d);
      g.append("line").attr("x1", bxm).attr("x2", bxm).attr("y1", p.tickY).attr("y2", p.tickY + 5).attr("stroke", "#333");
      g.append("line").attr("x1", bxm).attr("x2", bxm).attr("y1", p.monthY - 16).attr("y2", p.monthY + 5)
        .attr("stroke", "#222").attr("stroke-width", 1.6);
    }
  });
  edges.push(p.plotRight);
  monthDays.forEach((d: Date, k: number) => {
    if (edges[k + 1] - edges[k] < 70) return;
    g.append("text").attr("x", (edges[k] + edges[k + 1]) / 2).attr("y", p.monthY).attr("text-anchor", "middle")
      .attr("font-size", 17).attr("font-weight", "bold").attr("fill", TEXT)
      .text(`${yearLabel(d)} ${HU_MONTHS[d.getMonth()]}`);
  });

  // Reuters bar
  const ry = p.bottom + 1;
  g.append("rect").attr("x", 107).attr("y", ry).attr("width", 693).attr("height", 23).attr("fill", "#d4d0c8");
  g.append("rect").attr("x", 107.5).attr("y", ry + 0.5).attr("width", 131).attr("height", 22).attr("fill", "#fff").attr("stroke", "#222");
  g.append("text").attr("x", 126).attr("y", ry + 16).attr("font-size", 13).attr("font-weight", "bold")
    .attr("letter-spacing", 0.6).attr("fill", "#2b3f8e").text("REUTERS");
  const gx = 210, gy = ry + 11.5;
  for (let a = -6; a <= 6; a += 2) {
    for (let b = -6; b <= 6; b += 2) {
      if (a * a + b * b > 42) continue;
      g.append("circle").attr("cx", gx + a).attr("cy", gy + b).attr("r", 0.95).attr("fill", a >= 0 ? "#2b3f8e" : "#d04060");
    }
  }
  g.append("rect").attr("x", 240).attr("y", ry + 2).attr("width", 117).attr("height", 20).attr("fill", "#cdc9c1");
  g.append("path").attr("d", `M240.5,${ry + 22} V${ry + 2.5} H357`).attr("fill", "none").attr("stroke", "#7a7a7a").attr("stroke-width", 1.5);
  g.append("path").attr("d", `M241,${ry + 21.5} H357.5 V${ry + 2}`).attr("fill", "none").attr("stroke", "#fff").attr("stroke-width", 1);
}

export default function App() {
  const ref = useRef<SVGSVGElement>(null);

  useEffect(() => {
    const svg = d3.select(ref.current).attr("font-family", FONT);
    svg.selectAll("*").remove();
    drawPage(svg);
    panels.forEach(p => drawPanel(svg, p));
  }, []);

  return (
    <svg ref={ref} width={960} height={1470} viewBox="0 0 960 1470"
      style={{ position: "absolute", left: 0, top: 0, background: "#fff", display: "block" }} />
  );
}
